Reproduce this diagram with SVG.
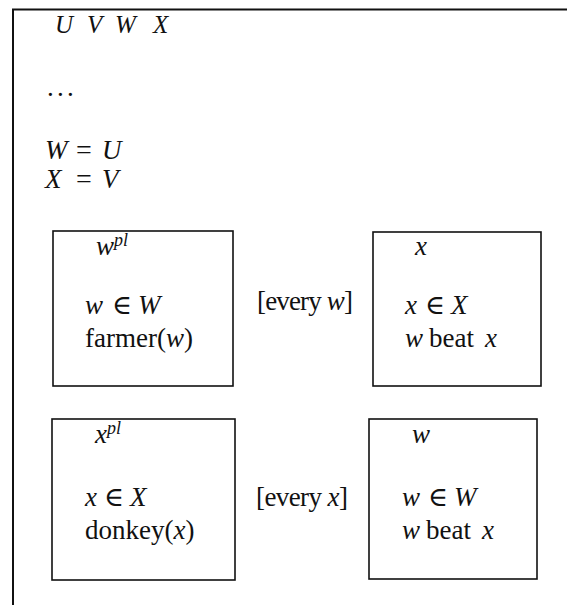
<svg xmlns="http://www.w3.org/2000/svg" width="567" height="605" viewBox="0 0 567 605">
<style>
.t{font-family:"Liberation Serif","DejaVu Serif",serif;font-size:27px;fill:#111}
.h{font-size:25px}
.i{font-style:italic}
.eq{font-size:28px}
.s{font-size:18px;font-style:italic}
.box{fill:none;stroke:#111;stroke-width:1.6}
.outer{fill:none;stroke:#111;stroke-width:2}
</style>
<rect width="567" height="605" fill="#fff"/>
<g id="outer">
<path class="outer" d="M13,605 V9.5 H567"/>
<text class="t h i" y="33"><tspan x="55">U</tspan><tspan x="87">V</tspan><tspan x="115">W</tspan><tspan x="153">X</tspan></text>
<text class="t" y="96"><tspan x="47">.</tspan><tspan x="57">.</tspan><tspan x="67">.</tspan></text>
<text class="t" y="159"><tspan class="i" x="45">W</tspan><tspan class="eq" x="76">=</tspan><tspan class="i" x="102">U</tspan></text>
<text class="t" y="188"><tspan class="i" x="45">X</tspan><tspan class="eq" x="76">=</tspan><tspan class="i" x="102">V</tspan></text>
</g>
<g id="box1">
<rect class="box" x="53" y="231" width="180" height="155"/>
<text class="t i" x="96" y="255">w<tspan class="s" dy="-9">pl</tspan></text>
<text class="t" y="314"><tspan class="i" x="85">w</tspan><tspan x="112">∈</tspan><tspan class="i" x="138">W</tspan></text>
<text class="t" x="85" y="347">farmer(<tspan class="i">w</tspan>)</text>
</g>
<g id="label1">
<text class="t" x="257" y="310" textLength="96" lengthAdjust="spacing">[every <tspan class="i">w</tspan>]</text>
</g>
<g id="box2">
<rect class="box" x="373" y="232" width="168" height="154"/>
<text class="t i" x="415" y="255">x</text>
<text class="t" y="314"><tspan class="i" x="405">x</tspan><tspan x="425">∈</tspan><tspan class="i" x="451">X</tspan></text>
<text class="t" y="347"><tspan class="i" x="405">w</tspan><tspan x="429">beat</tspan><tspan class="i" x="485">x</tspan></text>
</g>
<g id="box3">
<rect class="box" x="52" y="419" width="183" height="161"/>
<text class="t i" x="95" y="443">x<tspan class="s" dy="-9">pl</tspan></text>
<text class="t" y="506"><tspan class="i" x="85">x</tspan><tspan x="104">∈</tspan><tspan class="i" x="130">X</tspan></text>
<text class="t" x="85" y="539">donkey(<tspan class="i">x</tspan>)</text>
</g>
<g id="label2">
<text class="t" x="256" y="506" textLength="92" lengthAdjust="spacing">[every <tspan class="i">x</tspan>]</text>
</g>
<g id="box4">
<rect class="box" x="369" y="419" width="168" height="160"/>
<text class="t i" x="412" y="443">w</text>
<text class="t" y="506"><tspan class="i" x="402">w</tspan><tspan x="428">∈</tspan><tspan class="i" x="454">W</tspan></text>
<text class="t" y="539"><tspan class="i" x="402">w</tspan><tspan x="426">beat</tspan><tspan class="i" x="482">x</tspan></text>
</g>
</svg>
